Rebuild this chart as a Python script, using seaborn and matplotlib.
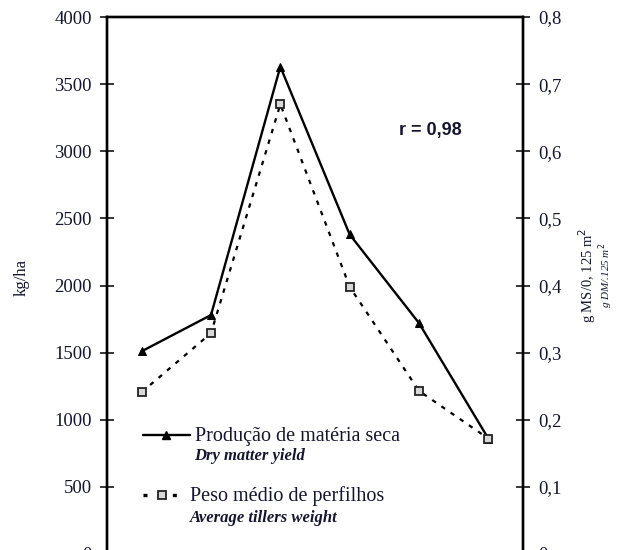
import numpy as np
import matplotlib
matplotlib.use("Agg")
import matplotlib.pyplot as plt
from matplotlib.lines import Line2D
import seaborn as sns

# ---- data ----
periods = ["1", "2", "3", "4", "5", "6"]
dm_yield = [1510, 1780, 3630, 2380, 1720, 860]          # kg/ha (left axis)
tiller_weight = [0.241, 0.329, 0.670, 0.398, 0.243, 0.172]  # g MS/0,125 m2 (right axis)
left_ticks = [0, 500, 1000, 1500, 2000, 2500, 3000, 3500, 4000]
right_ticks = [0, 0.1, 0.2, 0.3, 0.4, 0.5, 0.6, 0.7, 0.8]
right_tick_labels = ["0", "0,1", "0,2", "0,3", "0,4", "0,5", "0,6", "0,7", "0,8"]
boundary_ticks = [0.5, 1.5, 2.5, 3.5, 4.5]

sns.set_style("white")
plt.rcParams["font.family"] = ["Liberation Serif", "DejaVu Serif"]

TXT = "#15152e"
fig = plt.figure(figsize=(6.29, 5.5), dpi=100)
W, H = 629, 550
ax = fig.add_axes([107 / W, 1 - 554 / H, (523 - 107) / W, (554 - 17) / H])
ax2 = ax.twinx()

x = np.arange(len(periods))
sns.lineplot(x=x, y=dm_yield, ax=ax, color="black", linewidth=1.7,
             marker="^", markersize=6, markeredgecolor="black", markerfacecolor="black")
sns.lineplot(x=x, y=tiller_weight, ax=ax2, color="black", linewidth=1.6,
             linestyle=(0, (2, 3)), marker="s", markersize=6,
             markeredgecolor="#222222", markerfacecolor="#d8d8d8", markeredgewidth=1.3)

ax.set_xlim(-0.5, 5.5)
ax.set_ylim(0, 4000)
ax2.set_ylim(0, 0.8)
ax.set_yticks(left_ticks)
ax.set_yticklabels([str(t) for t in left_ticks])
ax2.set_yticks(right_ticks)
ax2.set_yticklabels(right_tick_labels)
ax.set_xticks(boundary_ticks)
ax.set_xticklabels([])

for a in (ax, ax2):
    for s in a.spines.values():
        s.set_linewidth(1.7)
        s.set_color("black")
ax.tick_params(axis="y", direction="inout", length=10, width=1.3, pad=6,
               labelsize=13.5, labelcolor=TXT)
ax2.tick_params(axis="y", direction="inout", length=10, width=1.3, pad=6,
                labelsize=13.5, labelcolor=TXT)
ax.tick_params(axis="x", direction="in", length=5, width=1.3)
ax.set_ylabel("")
ax2.set_ylabel("")

# axis labels
fig.text(22 / W, 1 - 278 / H, "kg/ha", rotation=90, ha="center", va="center",
         fontsize=12, color=TXT)
fig.text(587 / W, 1 - 275 / H, "g MS/0, 125 m$^2$", rotation=90, ha="center", va="center",
         fontsize=10.5, color=TXT)
fig.text(606 / W, 1 - 275 / H, "g DM/.125 m$^2$", rotation=90, ha="center", va="center",
         fontsize=8, style="italic", color=TXT)

# annotation
fig.text(430 / W, 1 - 130 / H, "r = 0,98", ha="center", va="center", fontsize=13,
         fontweight="bold", family=["Liberation Sans", "DejaVu Sans"], color=TXT)

# legend (manual)
def px(xp, yp):
    return xp / W, 1 - yp / H

l1 = Line2D([143 / W, 190 / W], [1 - 435 / H] * 2, color="black", lw=1.7,
            transform=fig.transFigure)
m1 = Line2D([166 / W], [1 - 435 / H], color="black", marker="^", markersize=6,
            transform=fig.transFigure)
l2 = Line2D([143 / W, 182 / W], [1 - 495 / H] * 2, color="black", lw=2.4,
            linestyle=(0, (1.2, 3.2)), transform=fig.transFigure)
m2 = Line2D([162 / W], [1 - 495 / H], color="black", marker="s", markersize=5.5,
            markerfacecolor="#d8d8d8", markeredgecolor="#222222", markeredgewidth=1.3,
            transform=fig.transFigure)
for art in (l1, m1, l2, m2):
    fig.add_artist(art)

fig.text(*px(195, 436), "Produção de matéria seca", ha="left", va="center",
         fontsize=14.5, color=TXT)
fig.text(*px(194, 456), "Dry matter yield", ha="left", va="center",
         fontsize=12, style="italic", fontweight="bold", color=TXT)
fig.text(*px(190, 496), "Peso médio de perfilhos", ha="left", va="center",
         fontsize=14.5, color=TXT)
fig.text(*px(190, 518), "Average tillers weight", ha="left", va="center",
         fontsize=12, style="italic", fontweight="bold", color=TXT)

fig.savefig("out.png", dpi=100)
